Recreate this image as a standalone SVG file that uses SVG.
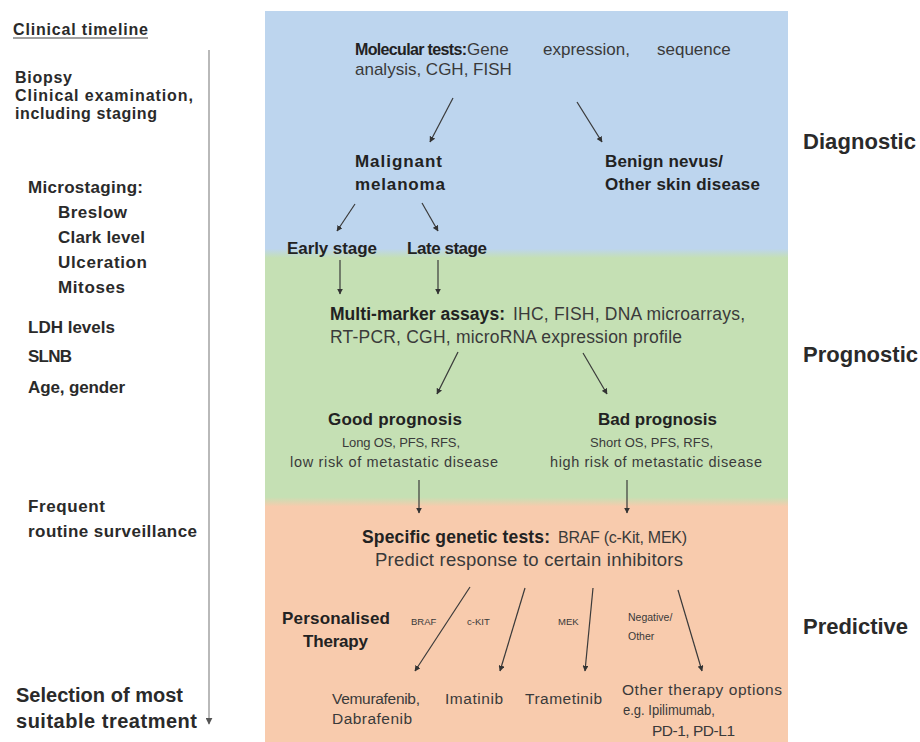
<svg xmlns="http://www.w3.org/2000/svg" width="920" height="742" viewBox="0 0 920 742">
<defs>
<style>
text{font-family:"Liberation Sans",Arial,sans-serif;}
.b{font-weight:bold;fill:#222;}
.r{fill:#3a3a3a;}
.lc{font-size:17px;font-weight:bold;fill:#2a2a2a;}
.phase{font-size:22px;font-weight:bold;fill:#2a2a2a;}
.small{font-size:9.5px;fill:#3a3a3a;}
.conn line{stroke:#3a3a3a;stroke-width:1.2;marker-end:url(#ah);}
</style>
<marker id="ah" viewBox="0 0 10 10" refX="9" refY="5" markerWidth="6" markerHeight="6" markerUnits="userSpaceOnUse" orient="auto"><path d="M0,0 L10,5 L0,10 z" fill="#333"/></marker>
<marker id="ahg" viewBox="0 0 10 10" refX="9" refY="5" markerWidth="7" markerHeight="7" markerUnits="userSpaceOnUse" orient="auto"><path d="M0,0 L10,5 L0,10 z" fill="#555"/></marker>
<linearGradient id="bg" x1="0" y1="11" x2="0" y2="742" gradientUnits="userSpaceOnUse">
<stop offset="0" stop-color="#BDD5EE"/>
<stop offset="0.325" stop-color="#BDD5EE"/>
<stop offset="0.338" stop-color="#C5E0B4"/>
<stop offset="0.665" stop-color="#C5E0B4"/>
<stop offset="0.678" stop-color="#F8CBAD"/>
<stop offset="1" stop-color="#F8CBAD"/>
</linearGradient>
</defs>
<rect width="920" height="742" fill="#fff"/>
<rect id="panel" x="265" y="11" width="523" height="731" fill="url(#bg)"/>

<g id="timeline">
<text class="lc" x="13" y="35" textLength="135" fill="#333" style="font-size:16px">Clinical timeline</text>
<line x1="13" y1="38" x2="148" y2="38" stroke="#444" stroke-width="1.2"/>
<line x1="209" y1="50" x2="209" y2="724" stroke="#8a8a8a" stroke-width="1.2" marker-end="url(#ahg)"/>
<text class="lc" x="15" y="83" textLength="57" style="font-size:16px">Biopsy</text>
<text class="lc" x="15" y="101" textLength="178" style="font-size:16px">Clinical examination,</text>
<text class="lc" x="15" y="119" textLength="142" style="font-size:16px">including staging</text>
<text class="lc" x="28" y="193" textLength="115">Microstaging:</text>
<text class="lc" x="58" y="218" textLength="69">Breslow</text>
<text class="lc" x="58" y="243" textLength="87">Clark level</text>
<text class="lc" x="58" y="268" textLength="89">Ulceration</text>
<text class="lc" x="58" y="293" textLength="67">Mitoses</text>
<text class="lc" x="28" y="333" textLength="87">LDH levels</text>
<text class="lc" x="28" y="362" textLength="44">SLNB</text>
<text class="lc" x="28" y="393" textLength="97">Age, gender</text>
<text class="lc" x="28" y="512" textLength="77">Frequent</text>
<text class="lc" x="28" y="537" textLength="169">routine surveillance</text>
<text class="lc" x="16" y="702" textLength="167" style="font-size:20px">Selection of most</text>
<text class="lc" x="16" y="728" textLength="181" style="font-size:20px">suitable treatment</text>
</g>

<g id="phases">
<text class="phase" x="803" y="149" textLength="113">Diagnostic</text>
<text class="phase" x="803" y="362" textLength="115">Prognostic</text>
<text class="phase" x="803" y="634" textLength="105">Predictive</text>
</g>

<g id="molecular">
<text class="b" x="355" y="55" textLength="112" style="font-size:16px">Molecular tests:</text>
<text class="r" x="467" y="55" style="font-size:17px">Gene</text>
<text class="r" x="543" y="55" style="font-size:17px">expression,</text>
<text class="r" x="657" y="55" style="font-size:17px">sequence</text>
<text class="r" x="355" y="75" style="font-size:17px">analysis, CGH, FISH</text>
</g>
<g id="malignant">
<text class="b" x="355" y="167" textLength="87" style="font-size:17px">Malignant</text>
<text class="b" x="355" y="190" textLength="90" style="font-size:17px">melanoma</text>
</g>
<g id="benign">
<text class="b" x="605" y="167" textLength="118" style="font-size:17px">Benign nevus/</text>
<text class="b" x="605" y="190" textLength="155" style="font-size:17px">Other skin disease</text>
</g>
<g id="early">
<text class="b" x="287" y="254" textLength="90" style="font-size:17px">Early stage</text>
</g>
<g id="late">
<text class="b" x="407" y="254" textLength="80" style="font-size:17px">Late stage</text>
</g>
<g id="multimarker">
<text class="b" x="330" y="320" textLength="175" style="font-size:17.5px">Multi-marker assays:</text>
<text class="r" x="513" y="320" textLength="232" style="font-size:17.5px">IHC, FISH, DNA microarrays,</text>
<text class="r" x="330" y="343" textLength="352" style="font-size:17.5px">RT-PCR, CGH, microRNA expression profile</text>
</g>
<g id="good">
<text class="b" x="328" y="425" textLength="134" style="font-size:17px">Good prognosis</text>
<text class="r" x="342" y="447" textLength="118" style="font-size:13px">Long OS, PFS, RFS,</text>
<text class="r" x="290" y="467" textLength="208" style="font-size:14.5px">low risk of metastatic disease</text>
</g>
<g id="bad">
<text class="b" x="598" y="425" textLength="119" style="font-size:17px">Bad prognosis</text>
<text class="r" x="590" y="447" textLength="123" style="font-size:13px">Short OS, PFS, RFS,</text>
<text class="r" x="550" y="467" textLength="212" style="font-size:14.5px">high risk of metastatic disease</text>
</g>
<g id="specific">
<text class="b" x="362" y="543" textLength="188" style="font-size:17.5px">Specific genetic tests:</text>
<text class="r" x="558" y="543" textLength="129" style="font-size:16px">BRAF (c-Kit, MEK)</text>
<text class="r" x="375" y="566" textLength="308" style="font-size:18.5px">Predict response to certain inhibitors</text>
</g>
<g id="personalised">
<text class="b" x="282" y="624" textLength="108" style="font-size:17px">Personalised</text>
<text class="b" x="303" y="647" textLength="65" style="font-size:17px">Therapy</text>
</g>
<g id="branch-labels">
<text class="small" x="411" y="625">BRAF</text>
<text class="small" x="467" y="625">c-KIT</text>
<text class="small" x="558" y="625">MEK</text>
<text class="small" x="628" y="621" style="font-size:10.5px">Negative/</text>
<text class="small" x="628" y="640" style="font-size:10.5px">Other</text>
</g>
<g id="vemurafenib">
<text class="r" x="332" y="704" textLength="88" style="font-size:15.5px">Vemurafenib,</text>
<text class="r" x="332" y="724" textLength="80" style="font-size:15.5px">Dabrafenib</text>
</g>
<g id="imatinib">
<text class="r" x="445" y="704" textLength="58" style="font-size:15.5px">Imatinib</text>
</g>
<g id="trametinib">
<text class="r" x="525" y="704" textLength="77" style="font-size:15.5px">Trametinib</text>
</g>
<g id="other">
<text class="r" x="622" y="695" textLength="160" style="font-size:15.5px">Other therapy options</text>
<text class="r" x="623" y="715" textLength="92" lengthAdjust="spacingAndGlyphs" style="font-size:15.5px">e.g. Ipilimumab,</text>
<text class="r" x="652" y="736" textLength="83" style="font-size:15.5px">PD-1, PD-L1</text>
</g>

<g id="connectors" class="conn">
<line x1="453" y1="98" x2="430" y2="142"/>
<line x1="577" y1="102" x2="602" y2="142"/>
<line x1="355" y1="204" x2="337" y2="231"/>
<line x1="422" y1="203" x2="438" y2="231"/>
<line x1="340" y1="260" x2="340" y2="294"/>
<line x1="438" y1="260" x2="438" y2="294"/>
<line x1="458" y1="352" x2="437" y2="394"/>
<line x1="583" y1="353" x2="607" y2="394"/>
<line x1="419" y1="480" x2="419" y2="513"/>
<line x1="627" y1="480" x2="627" y2="513"/>
<line x1="470" y1="587" x2="415" y2="671"/>
<line x1="525" y1="588" x2="500" y2="671"/>
<line x1="593" y1="588" x2="585" y2="671"/>
<line x1="678" y1="590" x2="702" y2="671"/>
</g>
</svg>
